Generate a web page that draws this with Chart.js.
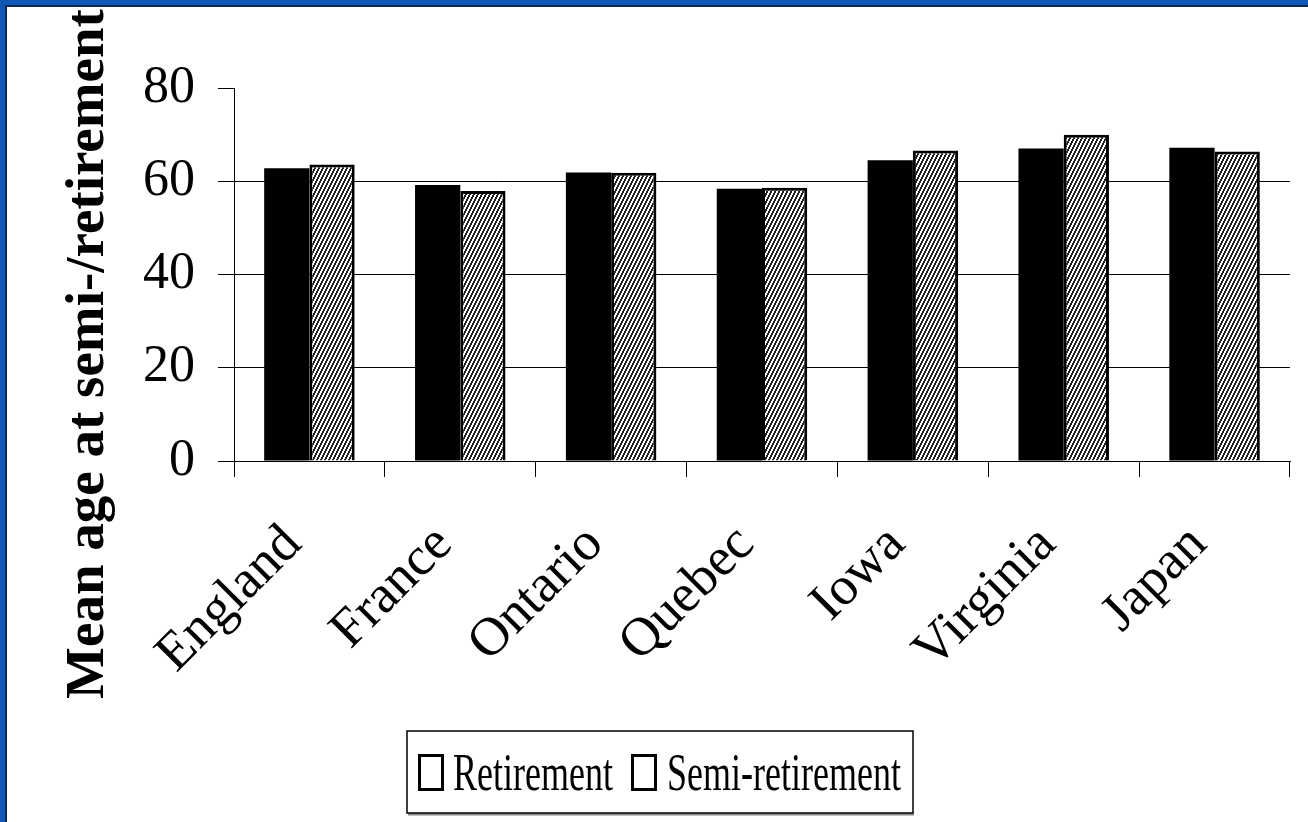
<!DOCTYPE html>
<html>
<head>
<meta charset="utf-8">
<script src="https://cdn.jsdelivr.net/npm/chart.js@4/dist/chart.umd.min.js"></script>
<style>
  html, body { margin: 0; padding: 0; background: #fff; overflow: hidden; width: 1308px; height: 822px; }
  #bleuHaut { position: absolute; left: 0; top: 0; width: 1308px; height: 5px; background: #1256b6; }
  #bleuGauche { position: absolute; left: 0; top: 0; width: 5px; height: 822px; background: #1256b6; }
  #traitHaut { position: absolute; left: 5px; top: 5px; width: 1303px; height: 2px; background: #082a55; }
  #traitGauche { position: absolute; left: 5px; top: 5px; width: 2px; height: 817px; background: #082a55; }
  #graphique { position: absolute; left: 7px; top: 7px; }
</style>
</head>
<body>
<div id="bleuHaut"></div><div id="bleuGauche"></div><div id="traitHaut"></div><div id="traitGauche"></div>
<canvas id="graphique" width="1301" height="815"></canvas>
<script>
var pays = ["England", "France", "Ontario", "Quebec", "Iowa", "Virginia", "Japan"];
var retraite = [62.8, 59.2, 61.9, 58.4, 64.5, 67.0, 67.2];
var semiRetraite = [63.6, 57.9, 61.8, 58.6, 66.6, 70.0, 66.4];
var graduationsY = [0, 20, 40, 60, 80];
var titreY = "Mean age at semi-/retirement";
var nomsSeries = ["Retirement", "Semi-retirement"];

// motif hachure pour les barres semi-retraite
var motif = document.createElement("canvas");
motif.width = 4;
motif.height = 8;
var mctx = motif.getContext("2d");
mctx.fillStyle = "#fff";
mctx.fillRect(0, 0, 4, 8);
mctx.fillStyle = "#1e1e1e";
for (let r = 0; r < 8; r++) {
    var d = (3 - Math.floor(r / 2) + 4) % 4;
    mctx.fillRect(d, r, 1, 1);
    mctx.fillRect((d + 1) % 4, r, 1, 1);
}
var hachure = document.getElementById("graphique").getContext("2d").createPattern(motif, "repeat");

var police = "'Liberation Serif', 'Times New Roman', serif";

var pluginTextes = {
    id: "textes",
    afterDraw: function(chart) {
        var ctx = chart.ctx;
        // titre de l'axe Y
        ctx.save();
        ctx.translate(96, 347);
        ctx.rotate(-Math.PI / 2);
        ctx.font = "bold 55px " + police;
        ctx.fillStyle = "#000";
        ctx.textAlign = "center";
        ctx.textBaseline = "alphabetic";
        ctx.fillText(titreY, 0, 0);
        ctx.restore();

        // legende
        ctx.save();
        ctx.fillStyle = "#fff";
        ctx.fillRect(400, 724, 506, 82);
        ctx.strokeStyle = "#888";
        ctx.lineWidth = 2;
        ctx.beginPath();
        ctx.moveTo(401, 807.5);
        ctx.lineTo(907, 807.5);
        ctx.stroke();
        ctx.strokeStyle = "#000";
        ctx.lineWidth = 1.5;
        ctx.strokeRect(400, 724, 506, 82);
        var carres = [411, 624];
        var textesX = [446, 660];
        for (let i = 0; i < nomsSeries.length; i++) {
            ctx.lineWidth = 3;
            ctx.strokeRect(carres[i] + 1.5, 748.5, 23, 34);
            ctx.save();
            ctx.translate(textesX[i], 783);
            ctx.scale(1, 1.45);
            ctx.font = "36px " + police;
            ctx.fillStyle = "#000";
            ctx.textAlign = "left";
            ctx.textBaseline = "alphabetic";
            ctx.fillText(nomsSeries[i], 0, 0);
            ctx.restore();
        }
        ctx.restore();
    }
};

var ctx = document.getElementById("graphique").getContext("2d");
var chart = new Chart(ctx, {
    type: "bar",
    data: {
        labels: pays,
        datasets: [{
            label: nomsSeries[0],
            data: retraite,
            backgroundColor: "#000",
            borderWidth: 0,
            categoryPercentage: 0.6,
            barPercentage: 1.0
        }, {
            label: nomsSeries[1],
            data: semiRetraite,
            backgroundColor: hachure,
            borderColor: "#000",
            borderWidth: 3,
            categoryPercentage: 0.6,
            barPercentage: 1.0
        }]
    },
    options: {
        responsive: false,
        animation: false,
        layout: { padding: { left: 0, top: 81, right: 18, bottom: 61 } },
        plugins: {
            legend: { display: false },
            tooltip: { enabled: false },
            title: { display: false }
        },
        scales: {
            x: {
                offset: true,
                afterFit: function(s) { s.height = 300; },
                grid: { offset: true, drawOnChartArea: false, tickLength: 16, color: "#000", lineWidth: 1 },
                border: { display: true, color: "#000", width: 1 },
                ticks: {
                    minRotation: 45,
                    maxRotation: 45,
                    padding: 36,
                    labelOffset: -16,
                    color: "#000",
                    font: { family: police, size: 54 }
                }
            },
            y: {
                min: 0,
                max: 80,
                afterFit: function(s) { s.width = 227; },
                afterBuildTicks: function(s) {
                    s.ticks = graduationsY.map(function(v) { return { value: v }; });
                },
                grid: {
                    tickLength: 16,
                    lineWidth: 1,
                    tickColor: "#000",
                    color: function(c) { return c.tick && c.tick.value === 80 ? "rgba(0,0,0,0)" : "#000"; }
                },
                border: { display: true, color: "#000", width: 1 },
                ticks: {
                    padding: 23,
                    color: "#000",
                    font: { family: police, size: 52 }
                }
            }
        }
    },
    plugins: [pluginTextes]
});
</script>
</body>
</html>
